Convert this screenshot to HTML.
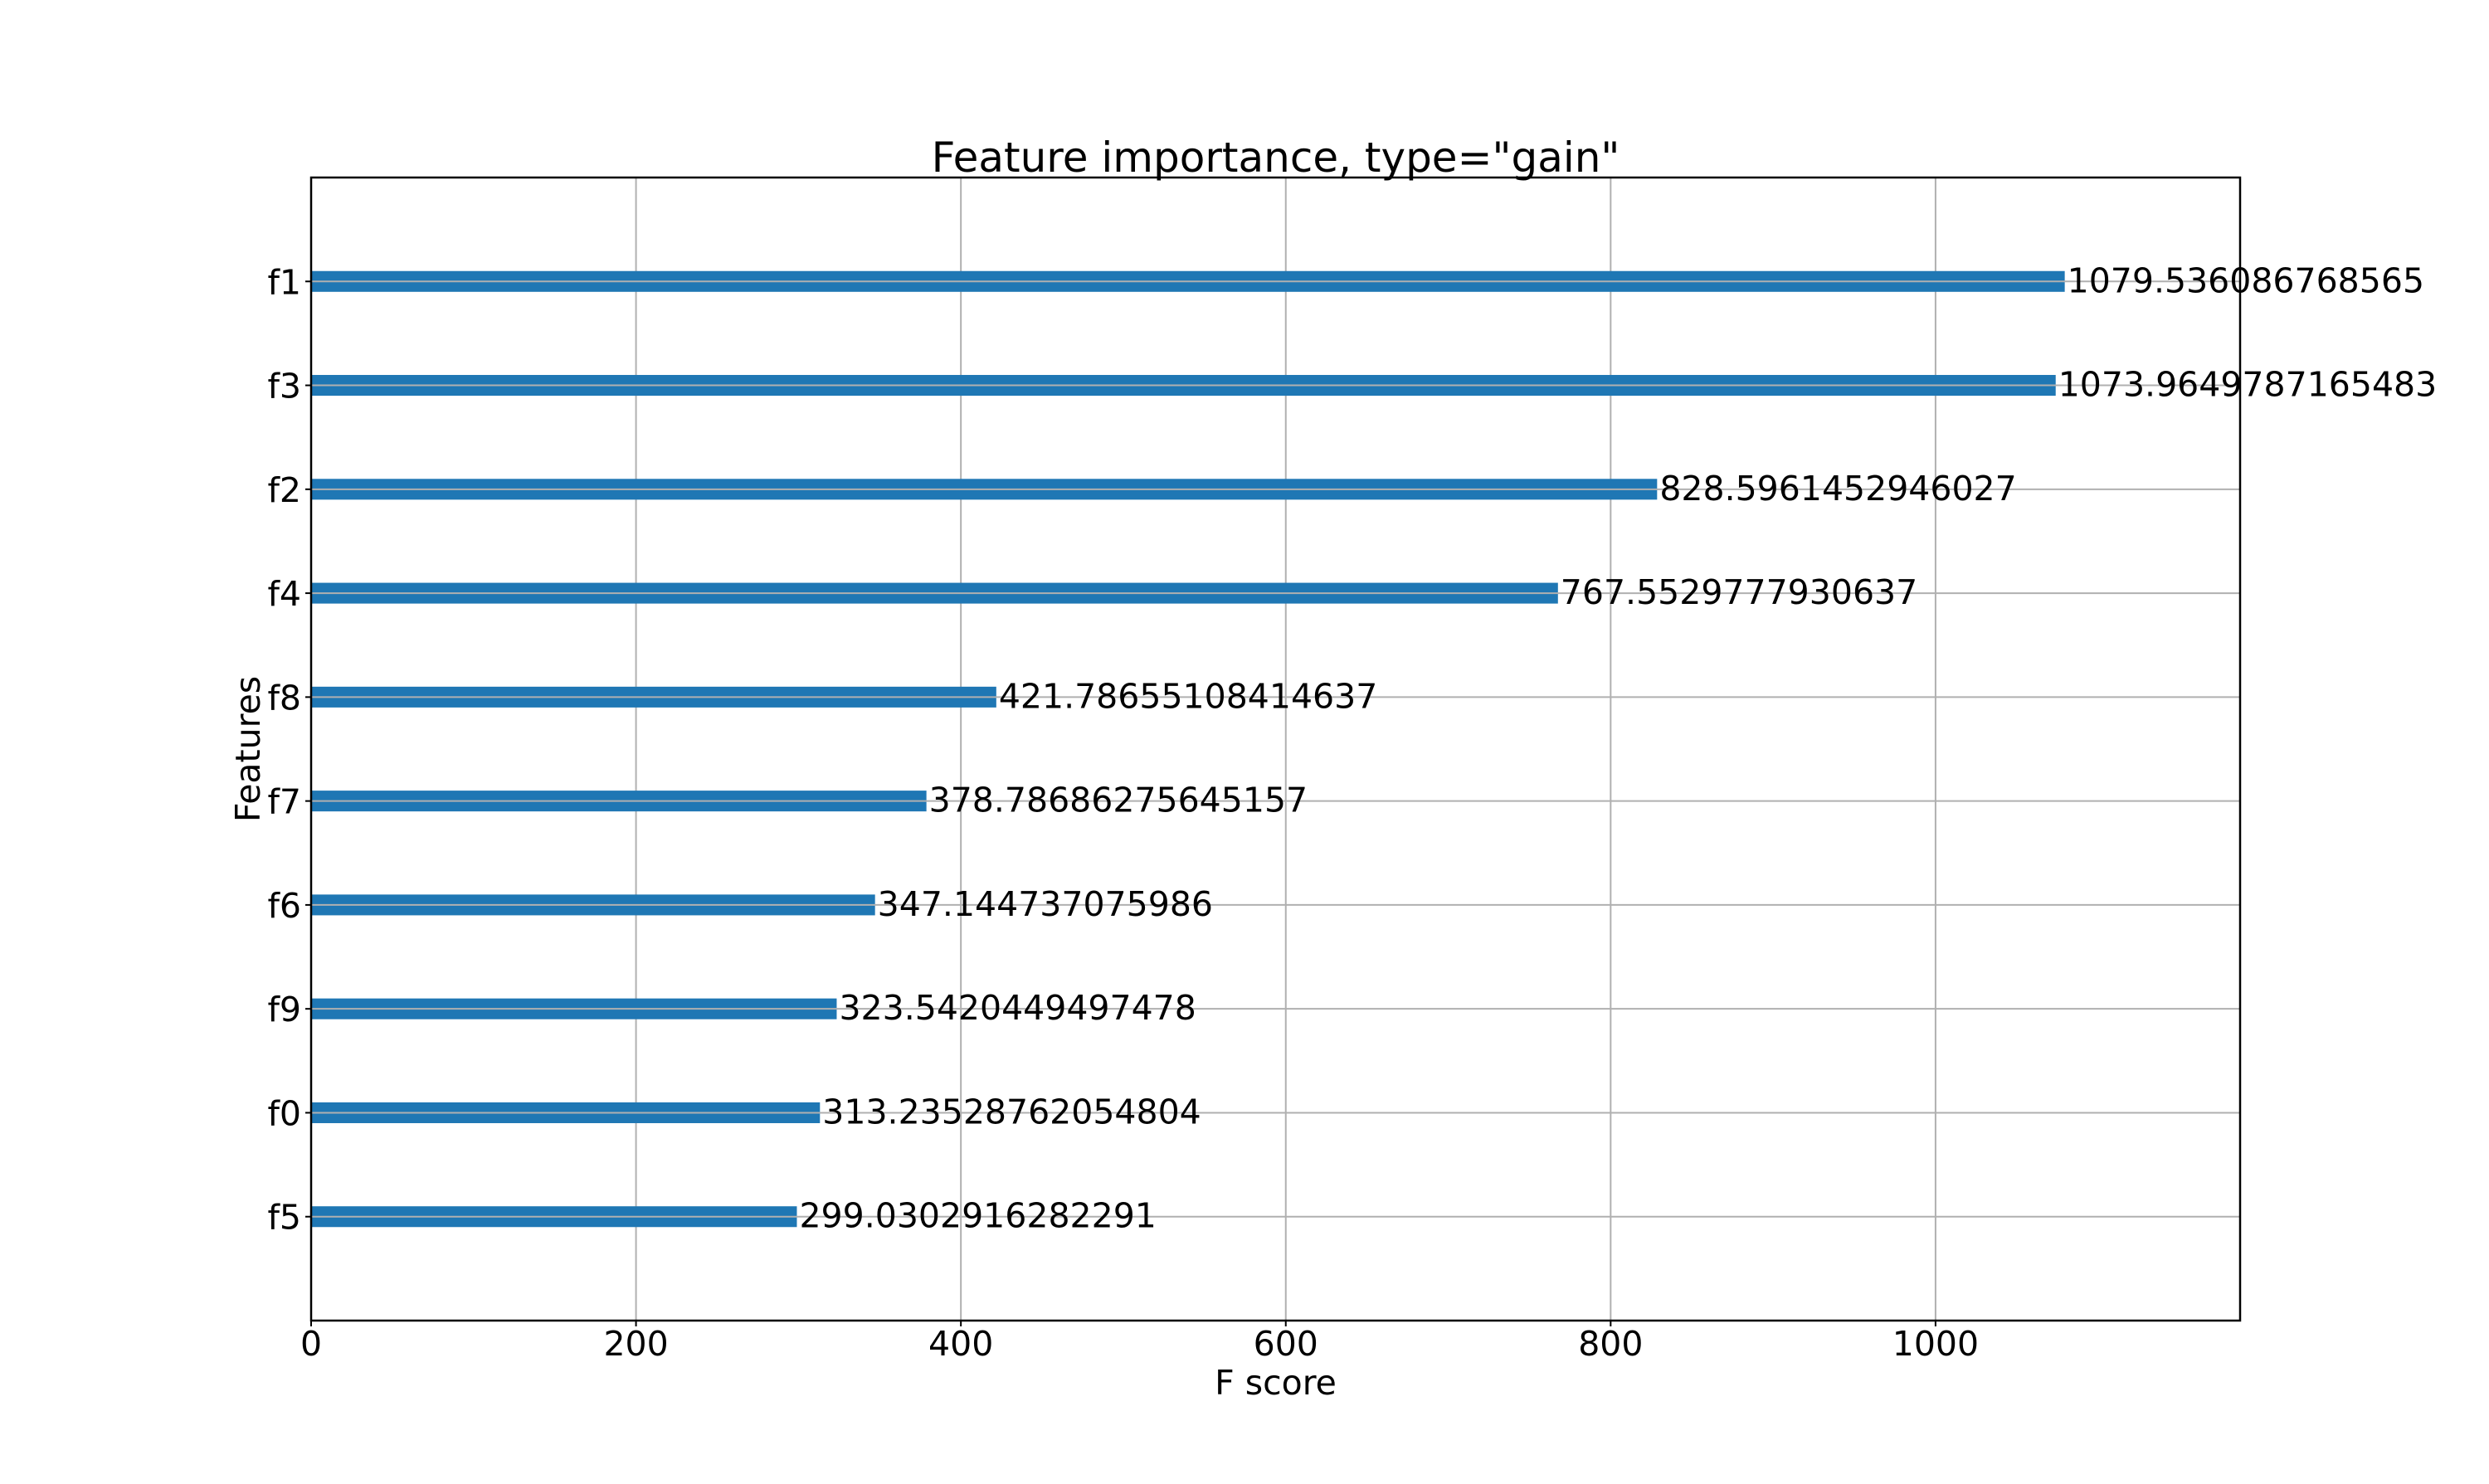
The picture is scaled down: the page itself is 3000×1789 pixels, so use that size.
<!DOCTYPE html>
<html><head><meta charset="utf-8"><style>
html,body{margin:0;padding:0;background:#fff;}
svg{display:block;font-family:"DejaVu Sans","Liberation Sans",sans-serif;}
</style></head><body>
<svg id="chart" width="3000" height="1789" viewBox="0 0 3000 1789" xmlns="http://www.w3.org/2000/svg">
<rect width="3000" height="1789" fill="#fff"/>
<g id="grid"></g>
<g id="bars"></g>
<rect x="375" y="214" width="2325" height="1378" fill="none" stroke="#000" stroke-width="2.5"/>
<g id="ticks"></g>
<g id="labels"></g>
<text x="1537.5" y="207" font-size="50" text-anchor="middle">Feature importance, type="gain"</text>
<text x="1537.5" y="1681" font-size="41" text-anchor="middle">F score</text>
<text x="0" y="0" font-size="41" text-anchor="middle" transform="translate(313,903) rotate(-90)">Features</text>
</svg>
<script>
const categories = ["f1","f3","f2","f4","f8","f7","f6","f9","f0","f5"];
const values = [1079.536086768565,1073.9649787165483,828.5961452946027,767.5529777930637,421.78655108414637,378.78686275645157,347.144737075986,323.5420449497478,313.23528762054804,299.0302916282291];
const valueLabels = ["1079.536086768565","1073.9649787165483","828.5961452946027","767.5529777930637","421.78655108414637","378.78686275645157","347.144737075986","323.5420449497478","313.23528762054804","299.0302916282291"];
const xTicks = [0,200,400,600,800,1000];
const xTickLabels = ["0","200","400","600","800","1000"];

const NS="http://www.w3.org/2000/svg";
const L=375,R=2700,T=214,B=1592;
const xMax=Math.max(...values)*1.1;
const xs=v=>L+v/xMax*(R-L);
const band=(B-T)/(categories.length+1);
const ys=i=>T+(i+1)*band;
function mk(tag,attrs,parent){const e=document.createElementNS(NS,tag);for(const k in attrs)e.setAttribute(k,attrs[k]);parent.appendChild(e);return e;}
const grid=document.getElementById('grid'),bars=document.getElementById('bars'),ticks=document.getElementById('ticks'),labels=document.getElementById('labels');

xTicks.forEach((t,j)=>{
  const x=xs(t);
  const g=mk('line',{x1:x,x2:x,y1:T,y2:B,stroke:'#b0b0b0','stroke-width':2},grid);
  
  
  const tk=mk('line',{x1:x,x2:x,y1:B,y2:B+7,stroke:'#000','stroke-width':2},ticks);
  
  
  const tl=mk('text',{x:x,y:B+42,'font-size':41,'text-anchor':'middle'},ticks);
  
  
  tl.textContent=xTickLabels[j];
});

categories.forEach((c,i)=>{
  const y=ys(i);
  const b=mk('rect',{x:L,y:y-band*0.1,width:xs(values[i])-L,height:band*0.2,fill:'#1f77b4'},bars);
  
  
  const g=mk('line',{x1:L,x2:R,y1:y,y2:y,stroke:'#b0b0b0','stroke-width':2},bars);
  
  
  const tk=mk('line',{x1:L-7,x2:L,y1:y,y2:y,stroke:'#000','stroke-width':2},ticks);
  
  
  const tl=mk('text',{x:L-12,y:y+15,'font-size':41,'text-anchor':'end'},ticks);
  
  
  tl.textContent=c;
  const vl=mk('text',{x:xs(values[i])+3,y:y+13,'font-size':41},labels);
  
  
  vl.textContent=valueLabels[i];
});
</script>
</body></html>
